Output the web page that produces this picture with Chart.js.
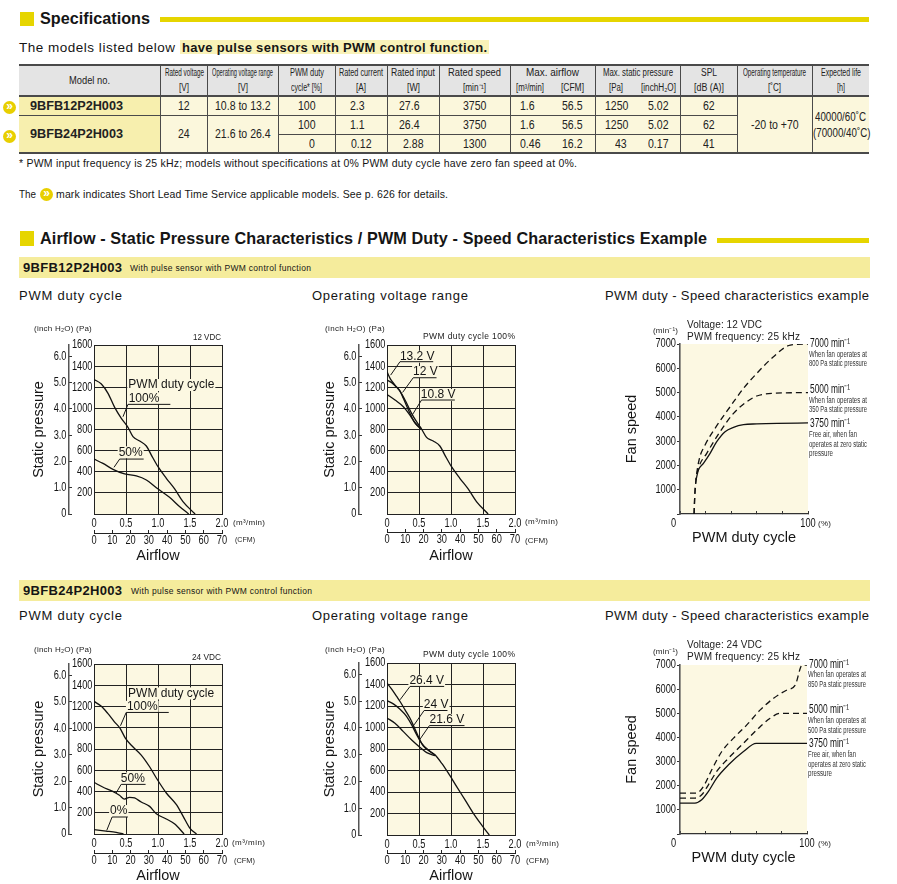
<!DOCTYPE html>
<html><head><meta charset="utf-8">
<script src="https://cdn.jsdelivr.net/npm/chart.js@4"></script>
<style>
html,body{margin:0;padding:0;background:#fff;width:897px;height:884px;overflow:hidden}
body{position:relative;font-family:"Liberation Sans",Arial,sans-serif;color:#151515}
.t{position:absolute;white-space:nowrap;transform-origin:0 50%;line-height:1}
.box{position:absolute}
canvas{position:absolute}
table{position:absolute;left:19px;top:64px;width:850px;border-collapse:collapse;table-layout:fixed;font-family:"Liberation Sans",sans-serif;font-size:13.5px;color:#222}
td{padding:0;text-align:center;border:1px solid #4a4a4a;background:#fbf7dc;line-height:1;overflow:visible}
tr{height:19px}
tr.h{height:16px}
tr.h:first-child{height:15px}
tr.h td{background:#e4e4e4;font-size:10px;border-top:none;border-bottom:none}
tr.h:first-child td{border-top:2px solid #4a4a4a}
tr.h2 td{border-bottom:2px solid #4a4a4a}
tr.last td{border-bottom:2px solid #4a4a4a}
td.m{background:#f7efae;text-align:left;padding-left:11px;font-weight:bold;border-left:none;font-size:13px}
td.nl{border-left:none}td.nr{border-right:none}
td.e{border-right:none}
.f{display:inline-block;white-space:nowrap;transform-origin:0 50%}
.ic{position:absolute;width:13px;height:13px;border-radius:50%;background:#e8cf00;color:#fff;font:bold 12px/11px "Liberation Sans";text-align:center}
</style></head><body>
<script>
/* ---------- airflow / static pressure readings: x in m3/min, y in Pa ---------- */
const airA100 = [0,.115,.219,.323,.427,.531,.609,.714,.818,.896,1.0,1.13,1.26,1.39,1.58];
const paA100  = [1274,1230,1142,1009,905,820,732,691,644,558,448,338,237,117,0];
const airA50  = [0,.14,.297,.479,.661,.818,.974,1.18,1.34,1.48];
const paA50   = [520,479,423,379,360,322,249,158,69,0];

const airB132 = [0,.057,.125,.203,.296,.384,.462,.525,.618,.722,.826,.904,1.008,1.138,1.268,1.398,1.58];
const paB132  = [1347,1274,1221,1164,1063,953,874,820,726,691,644,558,448,338,237,117,0];
const airB120 = [0,.073,.151,.203,.255,.358,.436,.525];
const paB120  = [1268,1243,1199,1164,1095,953,864,812];
const airB108 = [0,.125,.255,.358,.436,.525];
const paB108  = [1132,1079,1016,937,864,806];

const airD100 = [0,.11,.215,.319,.408,.492,.607,.738,.869,.974,1.13,1.288,1.393,1.497,1.602];
const paD100  = [1248,1204,1135,1056,994,900,821,743,633,527,386,276,166,56,0];
const airD50  = [0,.136,.293,.398,.476,.555,.634,.738,.869,.974,1.13,1.262,1.408];
const paD50   = [486,442,401,364,329,345,339,301,260,191,141,94,0];
const airD0   = [0,.188,.346,.461];
const paD0    = [41,28,16,0];

const airE264 = [0,.073,.151,.204,.282,.36,.439,.543,.648,.752,.856,.961,1.091,1.222,1.352,1.483,1.598];
const paE264  = [1413,1357,1289,1242,1164,1086,984,853,790,744,666,573,448,324,199,90,0];
const airE240 = [0,.099,.204,.308,.386,.465,.569,.674,.752];
const paE240  = [1251,1220,1170,1102,1024,931,828,775,744];
const airE216 = [0,.125,.256,.386,.517,.621,.752];
const paE216  = [1089,1040,962,884,815,766,738];

/* ---------- PWM duty (%) / fan speed (min-1) readings ---------- */
const dutyC3750 = [12.5,14.4,18.3,23.5,28.7,35.2,41.8,49.6,60,75.7,100];
const rpmC3750  = [1400,1812,2086,2498,2978,3390,3569,3679,3710,3735,3750];
const dutyC5000 = [11,11.5,12.5,14.4,20.9,31.3,41.8,52.2,60,73.1,100];
const rpmC5000  = [0,714,1400,1880,2498,3390,4145,4625,4859,4968,5000];
const dutyC7000 = [11,11.5,12.5,14.9,19.6,27.4,39.2,49.6,60,73.1,86.2,100];
const rpmC7000  = [0,714,1400,2223,2841,3527,4419,5174,5792,6478,6958,7000];

const dutyF3750 = [0,11.8,17.1,22.4,28.9,38.2,50,60,100];
const rpmF3750  = [1281,1281,1419,1764,2315,2866,3418,3750,3750];
const dutyF5000 = [0,11.8,17.1,22.4,28.9,38.2,50,60.5,71,79,100];
const rpmF5000  = [1488,1488,1626,2039,2591,3142,3762,4313,4795,5000,5000];
const dutyF7000 = [0,13.2,18.4,25,32.9,42.1,52.6,63.2,73.7,84.2,90.8,94.7,96,100];
const rpmF7000  = [1695,1695,1970,2659,3417,3969,4520,5140,5622,5967,6173,6862,7000,7000];

/* ---------- axis tick steps ---------- */
const PA_PER_INCH = 249.1;
const flowTickStep = 0.5, cfmTickStep = 10, paTickStep = 200, inchTickStep = 1, rpmTickStep = 1000, dutyTickStep = 20;

/* ---------- callouts in data units: [text, x, y], leader [[x,y],...] ---------- */
const notesA = [['PWM duty cycle',1.208,1221],['100%',.781,1095],['50%',.573,584]];
const leadA  = [[[.453,921],[.531,1038],[1.193,1038]],[[.3125,442],[.401,520],[.776,520]]];
const notesB = [['13.2 V',.473,1489],['12 V',.6,1344],['10.8 V',.8,1126]];
const leadB  = [[[.057,1315],[.203,1442],[.722,1442]],[[.244,1151],[.41,1290],[.774,1290]],[[.384,927],[.54,1079],[1.06,1079]]];
const notesD = [['PWM duty cycle',1.204,1323],['100%',.754,1197],['50%',.607,523],['0%',.387,216]];
const leadD  = [[[.414,1019],[.503,1144],[1.168,1144]],[[.346,386],[.424,467],[.806,467]],[[.199,34],[.283,160],[.529,160]]];
const notesE = [['26.4 V',.621,1435],['24 V',.768,1211],['21.6 V',.935,1071]];
const leadE  = [[[.204,1258],[.36,1382],[.893,1382]],[[.423,1024],[.58,1158],[.945,1158]],[[.507,884],[.663,1018],[1.211,1018]]];

/* ---------- table text ---------- */
const headTop = [['Rated voltage',39],['Operating voltage range',61],['PWM duty',34],['Rated current',44],['Rated input',44],['Rated speed',53]];
const headUnit = [['[V]',10],['[V]',10],['cycle* [%]',31],['[A]',10],['[W]',13],['[min\u207B\u00B9]',23]];

const CREAM='#fcf8e2', INK='#151515', GRID='#222', NARROW='"Liberation Sans Narrow","Liberation Sans",sans-serif', SANS='"Liberation Sans",Arial,sans-serif';
const CONDENSE=0.74;

/* ---------- page text helpers ---------- */
function fit(el,w){
  const m=el.getBoundingClientRect().width;
  if(m>w){el.style.transform='scaleX('+(w/m)+')';el.style.marginRight=(w-m)+'px';}
  else if(el.textContent.length>1){el.style.letterSpacing=((w-m)/(el.textContent.length-1))+'px';}
}
function T(x,y,text,size,w,opt){
  opt=opt||{};
  const s=document.createElement('span');s.className='t';s.textContent=text;
  s.style.cssText+='font-size:'+size+'px;font-family:'+SANS+';font-weight:'+(opt.bold?'bold':'normal')+';color:'+(opt.color||INK)+';left:'+x+'px;top:'+(y-size/2)+'px;';
  document.body.appendChild(s);
  if(w)fit(s,w);
}
function R(x,y,w,h,c){const d=document.createElement('div');d.className='box';d.style.cssText+='left:'+x+'px;top:'+y+'px;width:'+w+'px;height:'+h+'px;background:'+c;document.body.appendChild(d);}
function I(x,y){const d=document.createElement('div');d.className='ic';d.textContent='\u00BB';d.style.left=x+'px';d.style.top=y+'px';document.body.appendChild(d);}

/* ---------- headings ---------- */
const YEL='#e6d500', BAN='#f5ec9c';
R(19.5,11.5,14.5,14.5,YEL);
T(40,18.5,'Specifications',16.2,110,{bold:true});
R(160,17,709,5,YEL);
T(19,47.5,'The models listed below',13.5,156);
R(180,40,309,14,'#f9f2b8');
T(182,47.5,'have pulse sensors with PWM control function.',13,305,{bold:true});
T(19,163.5,'* PWM input frequency is 25 kHz; models without specifications at 0% PWM duty cycle have zero fan speed at 0%.',10.5,558);
T(19,194.5,'The',10.5,17);
I(40,188);
T(56,194.5,'mark indicates Short Lead Time Service applicable models. See p. 626 for details.',10.5,392);
I(3,101);I(3,130);

R(19.5,231,14.5,14.5,YEL);
T(40,238.5,'Airflow - Static Pressure Characteristics / PWM Duty - Speed Characteristics Example',16.2,667,{bold:true});
R(717,238,152,4.5,YEL);

R(19,257,851,21,BAN);
T(23,267.5,'9BFB12P2H003',13,99,{bold:true});
T(130,268.5,'With pulse sensor with PWM control function',8.5,181);
T(19,295.5,'PWM duty cycle',13,103);
T(312,295.5,'Operating voltage range',13,156);
T(605,295.5,'PWM duty - Speed characteristics example',13,264);

R(19,580,851,21,BAN);
T(23,590.5,'9BFB24P2H003',13,99,{bold:true});
T(131,591.5,'With pulse sensor with PWM control function',8.5,181);
T(19,615.5,'PWM duty cycle',13,103);
T(312,615.5,'Operating voltage range',13,156);
T(605,615.5,'PWM duty - Speed characteristics example',13,264);

/* ---------- spec table ---------- */
const cols=[141.5,47,70.5,57,52,52,71,40,45,42,43,57,75,57];
const f=(t,w)=>'<span class="f" data-w="'+w+'">'+t+'</span>';
const n=t=>'<span class="f" data-s="0.78">'+t+'</span>';
const c=(t,pr,pl)=>'<td style="padding-right:'+(pr||0)+'px;padding-left:'+(pl||0)+'px">'+n(t)+'</td>';
const BB='border-bottom:2px solid #4a4a4a';
let h='<table><colgroup>'+cols.map(x=>'<col style="width:'+x+'px">').join('')+'</colgroup>';
h+='<tr class="h"><td rowspan="2" style="border-left:none;'+BB+';font-size:11px">'+f('Model no.',41)+'</td>';
headTop.forEach(a=>h+='<td>'+f(a[0],a[1])+'</td>');
h+='<td colspan="2">'+f('Max. airflow',53)+'</td><td colspan="2">'+f('Max. static pressure',70)+'</td><td>'+f('SPL',16)+'</td><td>'+f('Operating temperature',63)+'</td><td class="e">'+f('Expected life',40)+'</td></tr>';
h+='<tr class="h h2">';
headUnit.forEach(a=>h+='<td>'+f(a[0],a[1])+'</td>');
h+='<td class="nr">'+f('[m\u00B3/min]',28)+'</td><td class="nl">'+f('[CFM]',23)+'</td><td class="nr">'+f('[Pa]',14)+'</td><td class="nl">'+f('[inchH\u2082O]',35)+'</td><td>'+f('[dB (A)]',30)+'</td><td>'+f('[\u02DAC]',13)+'</td><td class="e">'+f('[h]',8)+'</td></tr>';
const pair=(a,pa,b,d,pd,e)=>'<td class="nr" style="padding-right:'+pa+'px">'+n(a)+'</td><td class="nl">'+n(b)+'</td><td class="nr" style="padding-left:'+pd+'px">'+n(d)+'</td><td class="nl">'+n(e)+'</td>';
h+='<tr><td class="m">'+f('9BFB12P2H003',93)+'</td>'+c('12')+c('10.8 to 13.2')+c('100')+c('2.3',8)+c('27.6',8)+c('3750')+pair('1.6',6,'56.5','1250',0,'5.02')+c('62')
 +'<td rowspan="3" style="'+BB+'">'+n('-20 to +70')+'</td><td rowspan="3" class="e" style="'+BB+';font-size:12.5px;line-height:16px">'+n('40000/60\u02DAC')+'<br>'+n('(70000/40\u02DAC)')+'</td></tr>';
h+='<tr><td class="m" rowspan="2" style="'+BB+'">'+f('9BFB24P2H003',93)+'</td><td rowspan="2" style="'+BB+'">'+n('24')+'</td><td rowspan="2" style="'+BB+'">'+n('21.6 to 26.4')+'</td>'+c('100')+c('1.1',8)+c('26.4',8)+c('3750')+pair('1.6',6,'56.5','1250',0,'5.02')+c('62')+'</tr>';
h+='<tr class="last">'+c('0',0,11)+c('0.12')+c('2.88')+c('1300')+pair('0.46',0,'16.2','43',10,'0.17')+c('41')+'</tr></table>';
document.body.insertAdjacentHTML('beforeend',h);
document.querySelectorAll('.f').forEach(e=>{
  if(e.dataset.w)fit(e,+e.dataset.w);
  else{const m=e.getBoundingClientRect().width,s=+e.dataset.s;e.style.transform='scaleX('+s+')';e.style.marginRight=(m*(s-1))+'px';}
});

/* ---------- chart plugins ---------- */
const creamPlot={id:'creamPlot',beforeDraw(c){const a=c.chartArea;c.ctx.save();c.ctx.fillStyle=CREAM;c.ctx.fillRect(a.left,a.top,a.width,a.height);c.ctx.restore();}};
const callouts={id:'callouts',afterDatasetsDraw(c,_,o){
  if(!o.notes)return;
  const ctx=c.ctx,X=c.scales.x,Y=c.scales.y;ctx.save();
  ctx.font='12px '+SANS;ctx.textAlign='center';ctx.textBaseline='middle';
  o.notes.forEach(n=>{const w=ctx.measureText(n[0]).width,px=X.getPixelForValue(n[1]),py=Y.getPixelForValue(n[2]);
    ctx.fillStyle=CREAM;ctx.fillRect(px-w/2-1,py-6,w+2,12);});
  ctx.strokeStyle=INK;ctx.lineWidth=1;
  o.lead.forEach(l=>{ctx.beginPath();l.forEach((p,i)=>{const px=X.getPixelForValue(p[0]),py=Y.getPixelForValue(p[1]);i?ctx.lineTo(px,py):ctx.moveTo(px,py);});ctx.stroke();});
  ctx.fillStyle=INK;
  o.notes.forEach(n=>ctx.fillText(n[0],X.getPixelForValue(n[1]),Y.getPixelForValue(n[2])));
  ctx.restore();
}};
function mkCanvas(l,t,w,h){
  const c=document.createElement('canvas');c.width=w;c.height=h;c.style.cssText='left:'+l+'px;top:'+t+'px;width:'+w+'px;height:'+h+'px';document.body.appendChild(c);
  /* no condensed face is installed: tick labels ask for it by name and are squeezed with fillText's maxWidth */
  const ctx=c.getContext('2d'),ft=ctx.fillText.bind(ctx);
  ctx.fillText=(s,x,y,m)=>{if(ctx.font.includes('Narrow'))ft(s,x,y,ctx.measureText(s).width*CONDENSE);else if(m!==undefined)ft(s,x,y,m);else ft(s,x,y);};
  return c;
}
const size=n=>s=>{if(s.isHorizontal())s.height=n;else s.width=n;};
const zip=(xs,ys)=>xs.map((x,i)=>({x,y:ys[i]}));
const curve=(xs,ys,dash)=>({data:zip(xs,ys),borderColor:'#111',borderWidth:1.3,pointRadius:0,fill:false,cubicInterpolationMode:'monotone',borderDash:dash||[]});

function pressureChart(g){
  const top=g.top-16,left=g.left-g.leftW,W=g.right-left+50,H=g.bottom-top+g.belowH+3;
  const cv=mkCanvas(left,top,W,H);
  const tf=(s)=>({size:s,family:NARROW});
  new Chart(cv,{type:'line',plugins:[creamPlot,callouts],data:{datasets:g.series},options:{
    responsive:false,animation:false,
    layout:{autoPadding:false,padding:{left:0,top:16,right:50,bottom:3}},
    plugins:{legend:{display:false},tooltip:{enabled:false},callouts:{notes:g.notes,lead:g.lead}},
    scales:{
      x:{type:'linear',position:'bottom',weight:0,min:0,max:2,afterFit:size(g.xH),
        border:{display:true,color:GRID,width:1},
        grid:{color:GRID,lineWidth:1,drawTicks:false},
        ticks:{stepSize:flowTickStep,padding:2,maxRotation:0,autoSkip:false,color:INK,font:tf(12.5),callback:v=>v===0?'0':v.toFixed(1)}},
      cfm:{type:'linear',position:'bottom',weight:1,min:0,max:70,afterFit:size(g.belowH-g.xH),
        border:{display:true,color:'#222',width:1},
        grid:{drawOnChartArea:false,tickLength:-3,color:'#222',lineWidth:1},
        ticks:{stepSize:cfmTickStep,padding:3,maxRotation:0,autoSkip:false,color:INK,font:tf(12.5)},
        title:{display:true,text:'Airflow',color:INK,font:{size:14.5,family:SANS},padding:{top:0,bottom:1.5}}},
      y:{type:'linear',position:'left',weight:0,min:0,max:1600,afterFit:size(g.paW),
        border:{display:true,color:GRID,width:1},
        grid:{color:GRID,lineWidth:1,drawTicks:false},
        ticks:{stepSize:paTickStep,padding:1.5,color:INK,font:tf(12.5),autoSkip:false,callback:v=>v===0?'':String(v)}},
      inch:{type:'linear',position:'left',weight:1,min:0,max:1600/PA_PER_INCH,afterFit:size(g.leftW-g.paW),
        border:{display:true,color:'#555',width:1.5},
        grid:{drawOnChartArea:false,tickLength:-3,color:'#333',lineWidth:1},
        ticks:{stepSize:inchTickStep,includeBounds:false,padding:5.5,color:INK,font:tf(12.5),autoSkip:false,callback:v=>v===0?'0':v.toFixed(1)},
        title:{display:true,text:'Static pressure',color:INK,font:{size:14.5,family:SANS},padding:{top:g.titleX-8.7,bottom:0}}}
    }}});
}
function speedChart(g){
  const top=g.top-14,left=g.left-65,W=g.right-left+30,H=g.bottom-top+38;
  const cv=mkCanvas(left,top,W,H);
  new Chart(cv,{type:'line',plugins:[creamPlot],data:{datasets:g.series},options:{
    responsive:false,animation:false,
    layout:{autoPadding:false,padding:{left:0,top:14,right:30,bottom:0}},
    plugins:{legend:{display:false},tooltip:{enabled:false}},
    scales:{
      x:{type:'linear',position:'bottom',min:0,max:100,afterFit:size(38),
        border:{display:true,color:'#333',width:1.2},
        grid:{drawOnChartArea:false,tickLength:-3,color:'#333',lineWidth:1},
        ticks:{stepSize:dutyTickStep,padding:5,maxRotation:0,autoSkip:false,color:INK,font:{size:12.5,family:NARROW},callback:v=>v===0?'0     ':(v===100?'100':'')},
        title:{display:true,text:'PWM duty cycle',color:INK,font:{size:14.5,family:SANS},padding:{top:0,bottom:5}}},
      y:{type:'linear',position:'left',min:0,max:7000,afterFit:size(65),
        border:{display:true,color:'#555',width:1.6},
        grid:{drawOnChartArea:false,tickLength:3,color:'#333',lineWidth:1},
        ticks:{stepSize:rpmTickStep,padding:1,color:INK,font:{size:12.5,family:NARROW},autoSkip:false,callback:v=>v===0?'':String(v)},
        title:{display:true,text:'Fan speed',color:INK,font:{size:14.5,family:SANS},padding:{top:8.6,bottom:0}}}
    }}});
}

const DASH=[6,4];
pressureChart({left:94,right:222,top:345,bottom:514,leftW:74,paW:25,xH:19,belowH:52,titleX:19,
  series:[curve(airA100,paA100),curve(airA50,paA50)],notes:notesA,lead:leadA});
pressureChart({left:387,right:515,top:345,bottom:514,leftW:77,paW:28,xH:18,belowH:52,titleX:20,
  series:[curve(airB132,paB132),curve(airB120,paB120),curve(airB108,paB108)],notes:notesB,lead:leadB});
pressureChart({left:94,right:222,top:664,bottom:834,leftW:74,paW:25,xH:19,belowH:52,titleX:19,
  series:[curve(airD100,paD100),curve(airD50,paD50),curve(airD0,paD0)],notes:notesD,lead:leadD});
pressureChart({left:387,right:515,top:663,bottom:835,leftW:77,paW:28,xH:18,belowH:51,titleX:20,
  series:[curve(airE264,paE264),curve(airE240,paE240),curve(airE216,paE216)],notes:notesE,lead:leadE});
speedChart({left:680,right:808,top:344,bottom:514,series:[curve(dutyC3750,rpmC3750),curve(dutyC5000,rpmC5000,DASH),curve(dutyC7000,rpmC7000,DASH)]});
speedChart({left:680,right:807,top:665,bottom:834,series:[curve(dutyF3750,rpmF3750),curve(dutyF5000,rpmF5000,DASH),curve(dutyF7000,rpmF7000,DASH)]});

/* ---------- small chart captions ---------- */
[[34,329,'(inch H\u2082O)  (Pa)',8,58],[325,329,'(inch H\u2082O)  (Pa)',8,60],[34,650,'(inch H\u2082O)  (Pa)',8,58],[325,650,'(inch H\u2082O)  (Pa)',8,60],
 [193,337,'12 VDC',8.5,28],[423,336,'PWM duty cycle 100%',8.5,92],[192,657,'24 VDC',8.5,29],[423,654,'PWM duty cycle 100%',8.5,92],
 [233,523,'(m\u00B3/min)',8,32],[235,540,'(CFM)',8,20],[525,522,'(m\u00B3/min)',8,33],[525,541,'(CFM)',8,23],
 [232,843,'(m\u00B3/min)',8,33],[234,861,'(CFM)',8,21],[526,844,'(m\u00B3/min)',8,33],[526,861,'(CFM)',8,23],
 [818,524,'(%)',8,13],[818,844,'(%)',8,13],[653,331,'(min\u207B\u00B9)',8,25],[653,652,'(min\u207B\u00B9)',8,25],
 [687,324.5,'Voltage: 12 VDC',10,75],[687,337,'PWM frequency: 25 kHz',10,113],[687,645,'Voltage: 24 VDC',10,75],[687,656.5,'PWM frequency: 25 kHz',10,113]
].forEach(a=>T(a[0],a[1],a[2],a[3],a[4],{color:'#222'}));

const big=(x,y,t)=>T(x,y,t,12,40);
const tiny=(x,y,t,w)=>T(x,y,t,8.5,w,{color:'#333'});
big(810,343,'7000 min\u207B\u00B9');tiny(809,354,'When fan operates at',58);tiny(809,363.5,'800 Pa static pressure',58);
big(810,389,'5000 min\u207B\u00B9');tiny(809,400,'When fan operates at',58);tiny(809,409.5,'350 Pa static pressure',58);
big(810,423,'3750 min\u207B\u00B9');tiny(809,434,'Free air, when fan',48);tiny(809,444,'operates at zero static',58);tiny(809,453,'pressure',24);
big(809,664,'7000 min\u207B\u00B9');tiny(808,674.5,'When fan operates at',58);tiny(808,684.5,'850 Pa static pressure',58);
big(809,709,'5000 min\u207B\u00B9');tiny(808,720.5,'When fan operates at',58);tiny(808,730.5,'500 Pa static pressure',58);
big(809,743,'3750 min\u207B\u00B9');tiny(808,754,'Free air, when fan',48);tiny(808,764,'operates at zero static',58);tiny(808,773.5,'pressure',24);
</script>
</body></html>
